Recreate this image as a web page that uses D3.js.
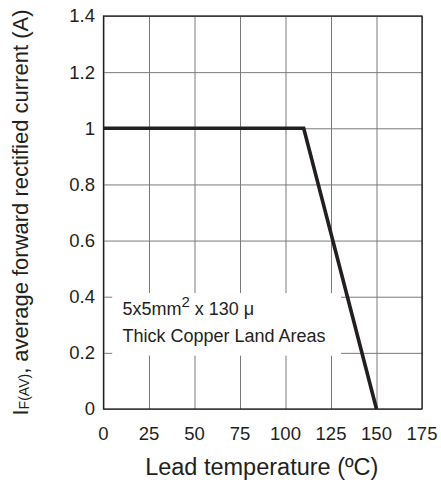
<!DOCTYPE html>
<html>
<head>
<meta charset="utf-8">
<script src="https://cdn.jsdelivr.net/npm/d3@7"></script>
<style>
  body { margin: 0; background: #fff; }
  svg text { font-family: "Liberation Sans", Arial, Helvetica, sans-serif; fill: #231f20; }
</style>
</head>
<body>
<div id="grafico"></div>
<script>
// Curve data: lead temperature (ºC) vs average forward rectified current (A)
const temperatura = [0, 110, 150];
const corrente = [1, 1, 0];

// Ticks and labels
const xTicks = [0, 25, 50, 75, 100, 125, 150, 175];
const xTickLabels = ["0", "25", "50", "75", "100", "125", "150", "175"];
const yTicks = [0, 0.2, 0.4, 0.6, 0.8, 1, 1.2, 1.4];
const yTickLabels = ["0", "0.2", "0.4", "0.6", "0.8", "1", "1.2", "1.4"];

const nota = ["5x5mm", "2", " x 130 \u03bc", "Thick Copper Land Areas"];

const largura = 441, altura = 486;
const margem = {top: 16, right: 19, bottom: 77, left: 103.5};

const svg = d3.select("#grafico").append("svg")
    .attr("width", largura)
    .attr("height", altura);

const x = d3.scaleLinear().domain([0, 175]).range([margem.left, largura - margem.right]);
const y = d3.scaleLinear().domain([0, 1.4]).range([altura - margem.bottom, margem.top]);

// Grid lines (vertical and horizontal)
svg.append("g")
    .attr("transform", `translate(0,${y(0)})`)
    .call(d3.axisBottom(x).tickValues(xTicks).tickSize(-(y(0) - y(1.4))).tickFormat(""))
    .call(g => g.select(".domain").remove())
    .call(g => g.selectAll("line").attr("stroke", "#7a7a7a").attr("stroke-width", 1));

svg.append("g")
    .attr("transform", `translate(${x(0)},0)`)
    .call(d3.axisLeft(y).tickValues(yTicks).tickSize(-(x(175) - x(0))).tickFormat(""))
    .call(g => g.select(".domain").remove())
    .call(g => g.selectAll("line").attr("stroke", "#7a7a7a").attr("stroke-width", 1));

// White box behind the note, covering grid lines
svg.append("rect")
    .attr("x", x(4.8))
    .attr("y", y(0.413))
    .attr("width", x(130.5) - x(4.8))
    .attr("height", y(0.19) - y(0.413))
    .attr("fill", "#fff");

// Frame
svg.append("rect")
    .attr("x", x(0))
    .attr("y", y(1.4))
    .attr("width", x(175) - x(0))
    .attr("height", y(0) - y(1.4))
    .attr("fill", "none")
    .attr("stroke", "#231f20")
    .attr("stroke-width", 1.3);

// Tick labels
svg.append("g").selectAll("text")
    .data(xTicks)
    .join("text")
    .attr("x", d => x(d))
    .attr("y", y(0) + 31)
    .attr("text-anchor", "middle")
    .attr("font-size", 18.5)
    .text((d, i) => xTickLabels[i]);

svg.append("g").selectAll("text")
    .data(yTicks)
    .join("text")
    .attr("x", x(0) - 8.5)
    .attr("y", d => y(d))
    .attr("dy", "0.35em")
    .attr("text-anchor", "end")
    .attr("font-size", 18.5)
    .text((d, i) => yTickLabels[i]);

// Derating curve
const linha = d3.line().x(d => x(d[0])).y(d => y(d[1]));
svg.append("path")
    .datum(temperatura.map((t, i) => [t, corrente[i]]))
    .attr("d", linha)
    .attr("fill", "none")
    .attr("stroke", "#231f20")
    .attr("stroke-width", 3.6)
    .attr("stroke-linejoin", "miter");

// Note text
const t1 = svg.append("text")
    .attr("x", x(10.4))
    .attr("y", y(0.334))
    .attr("font-size", 18);
t1.append("tspan").text(nota[0]);
t1.append("tspan").attr("dy", -8).attr("font-size", 15).text(nota[1]);
t1.append("tspan").attr("dy", 8).text(nota[2]);

svg.append("text")
    .attr("x", x(10.4))
    .attr("y", y(0.24))
    .attr("font-size", 18)
    .text(nota[3]);

// Axis titles
svg.append("text")
    .attr("x", (x(0) + x(175)) / 2 - 1)
    .attr("y", 475)
    .attr("text-anchor", "middle")
    .attr("font-size", 23.5)
    .text("Lead temperature (\u00baC)");

const ty = svg.append("text")
    .attr("transform", `translate(28,${(y(0) + y(1.4)) / 2}) rotate(-90)`)
    .attr("text-anchor", "middle")
    .attr("font-size", 22);
ty.append("tspan").text("I");
ty.append("tspan").attr("font-size", 14).attr("dy", 1).text("F(AV)");
ty.append("tspan").attr("dy", -1).text(", average forward rectified current (A)");
</script>
</body>
</html>
